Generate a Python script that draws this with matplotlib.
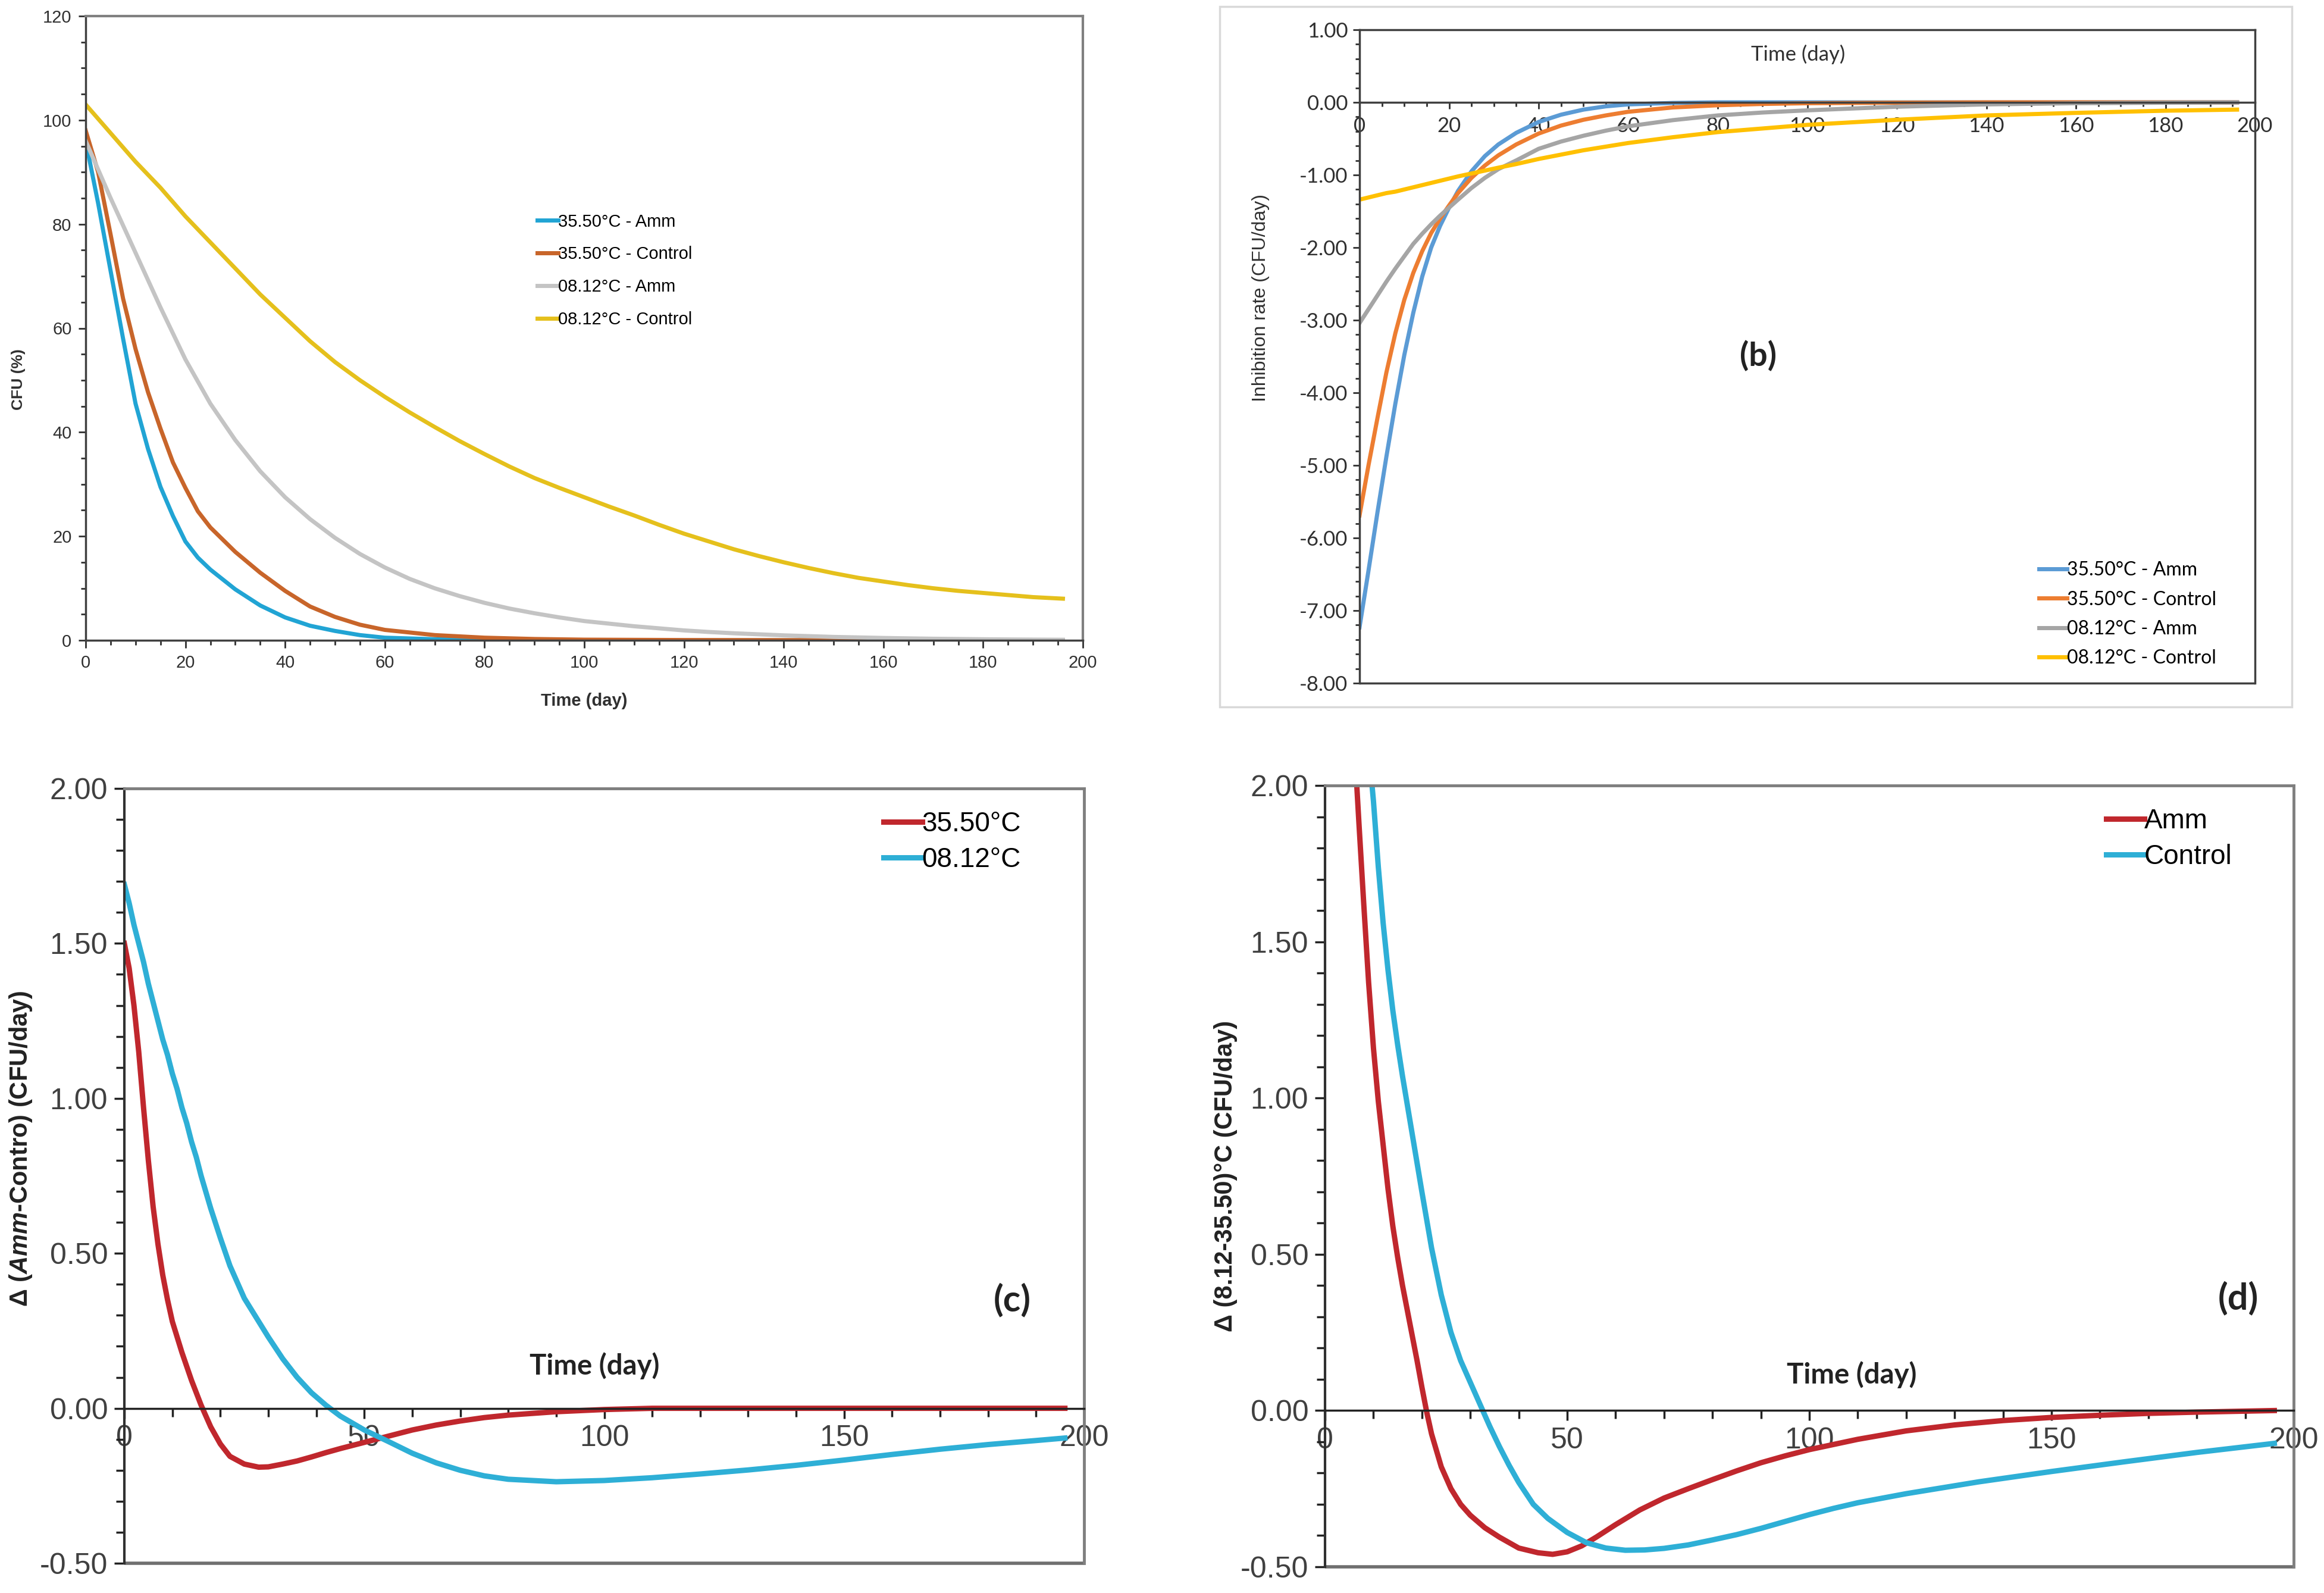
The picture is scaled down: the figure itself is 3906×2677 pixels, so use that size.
import matplotlib
matplotlib.use("Agg")
import matplotlib.pyplot as plt
from matplotlib.ticker import MultipleLocator, FormatStrFormatter

NARROW = ["Liberation Sans Narrow", "Liberation Sans", "DejaVu Sans"]
ARIAL = ["Liberation Sans", "DejaVu Sans"]
CALIBRI = ["Lato", "Liberation Sans", "DejaVu Sans"]

plt.rcParams["mathtext.fontset"] = "custom"
plt.rcParams["mathtext.rm"] = "Liberation Sans:bold"
plt.rcParams["mathtext.bf"] = "Liberation Sans:bold"
plt.rcParams["mathtext.it"] = "Liberation Sans:italic:bold"

# ---- panel (a): CFU (%) over time ----
a_day_fast = [0, 2.5, 5, 7.5, 10, 12.5, 15, 17.5, 20, 22.5, 25, 30, 35, 40, 45,
              50, 55, 60, 70, 80, 90, 100, 120, 150, 196]
a_amm_35 = [96, 84, 71, 58, 45.5, 36.8, 29.5, 23.9, 19, 15.9, 13.6, 9.8, 6.7, 4.4, 2.8,
            1.8, 1.0, 0.5, 0.2, 0.05, 0, 0, 0, 0, 0]
a_ctrl_35 = [98, 90, 78, 65.7, 56, 47.7, 40.7, 34.2, 29.3, 24.8, 21.7, 17, 13, 9.5, 6.5,
             4.5, 3.0, 2.0, 1.0, 0.5, 0.25, 0.12, 0.05, 0.02, 0]
a_day_slow = [0, 5, 10, 15, 20, 25, 30, 35, 40, 45, 50, 55, 60, 65, 70, 75, 80, 85, 90,
              95, 100, 105, 110, 115, 120, 125, 130, 135, 140, 145, 150, 155, 160, 165,
              170, 175, 180, 185, 190, 196]
a_amm_08 = [96, 85, 74.5, 64, 54, 45.5, 38.5, 32.5, 27.5, 23.3, 19.7, 16.6, 14, 11.8, 10,
            8.5, 7.2, 6.1, 5.2, 4.4, 3.7, 3.2, 2.7, 2.3, 1.9, 1.6, 1.35, 1.15, 0.95, 0.8,
            0.65, 0.55, 0.45, 0.37, 0.3, 0.25, 0.2, 0.16, 0.13, 0.1]
a_ctrl_08 = [103, 97.5, 92, 87, 81.5, 76.5, 71.5, 66.5, 62, 57.5, 53.5, 50, 46.8, 43.8, 41,
             38.3, 35.8, 33.4, 31.2, 29.3, 27.5, 25.7, 24, 22.2, 20.5, 19, 17.5, 16.2, 15,
             13.9, 12.9, 12, 11.3, 10.6, 10, 9.5, 9.1, 8.7, 8.3, 8.0]

# ---- panel (b): inhibition rate ----
b_day = [0, 2, 4, 6, 8, 10, 12, 14, 16, 18, 20, 22, 25, 28, 31, 35, 40, 45, 50, 55, 60,
         70, 80, 90, 100, 120, 140, 160, 180, 196]
b_amm_35 = [-7.23, -6.45, -5.65, -4.88, -4.15, -3.48, -2.9, -2.4, -2.0, -1.7, -1.45, -1.22,
            -0.95, -0.74, -0.58, -0.42, -0.27, -0.17, -0.1, -0.055, -0.028, -0.008, 0, 0,
            0, 0, 0, 0, 0, 0]
b_ctrl_35 = [-5.69, -5.0, -4.35, -3.72, -3.18, -2.72, -2.35, -2.05, -1.8, -1.6, -1.42, -1.25,
             -1.04, -0.87, -0.73, -0.58, -0.43, -0.32, -0.24, -0.18, -0.13, -0.07, -0.04,
             -0.022, -0.012, -0.004, 0, 0, 0, 0]
b_amm_08 = [-3.04, -2.85, -2.66, -2.47, -2.29, -2.12, -1.95, -1.81, -1.68, -1.56, -1.45,
            -1.34, -1.18, -1.04, -0.92, -0.8, -0.64, -0.54, -0.46, -0.39, -0.33, -0.245,
            -0.18, -0.14, -0.11, -0.06, -0.028, -0.012, -0.005, 0]
b_ctrl_08 = [-1.34, -1.31, -1.28, -1.25, -1.23, -1.2, -1.17, -1.14, -1.11, -1.08, -1.05,
             -1.02, -0.98, -0.94, -0.9, -0.85, -0.78, -0.72, -0.66, -0.61, -0.56, -0.48,
             -0.41, -0.36, -0.31, -0.24, -0.18, -0.145, -0.115, -0.1]

# ---- panel (c): Amm - Control ----
c_day = [0, 1, 2, 3, 4, 5, 6, 7, 8, 9, 10, 11, 12, 13, 14, 15, 16, 18, 20, 22, 25, 28,
         30, 33, 36, 39, 42, 45, 50, 55, 60, 65, 70, 75, 80, 90, 100, 110, 120, 130, 140,
         150, 160, 170, 180, 190, 196]
c_35 = [1.50, 1.42, 1.30, 1.15, 0.97, 0.80, 0.65, 0.53, 0.43, 0.35, 0.28, 0.23, 0.18,
        0.135, 0.09, 0.05, 0.01, -0.06, -0.115, -0.155, -0.18, -0.19, -0.189, -0.18, -0.17,
        -0.157, -0.143, -0.13, -0.11, -0.09, -0.07, -0.054, -0.041, -0.03, -0.022, -0.011,
        -0.004, 0, 0, 0, 0, 0, 0, 0, 0, 0, 0]
c_08 = [1.69, 1.63, 1.56, 1.50, 1.44, 1.37, 1.31, 1.25, 1.19, 1.14, 1.08, 1.03, 0.97,
        0.92, 0.86, 0.81, 0.75, 0.645, 0.55, 0.46, 0.355, 0.28, 0.23, 0.16, 0.10, 0.05,
        0.01, -0.025, -0.07, -0.107, -0.145, -0.176, -0.2, -0.218, -0.229, -0.237, -0.233,
        -0.224, -0.212, -0.199, -0.184, -0.167, -0.149, -0.132, -0.117, -0.104, -0.096]

# ---- panel (d): 8.12 - 35.50 degC ----
d_day_amm = [4, 5, 6, 7, 8, 9, 10, 11, 12, 13, 14, 15, 16, 17, 18, 19, 20, 21, 22, 24, 26,
             28, 30, 33, 36, 40, 44, 47, 50, 53, 56, 60, 65, 70, 75, 80, 85, 90, 95, 100,
             110, 120, 130, 140, 150, 160, 170, 180, 196]
d_amm = [2.75, 2.42, 2.15, 1.88, 1.62, 1.37, 1.16, 0.99, 0.85, 0.71, 0.59, 0.49, 0.40,
         0.32, 0.24, 0.16, 0.075, -0.005, -0.075, -0.18, -0.25, -0.30, -0.335, -0.375,
         -0.405, -0.44, -0.455, -0.46, -0.452, -0.433, -0.405, -0.365, -0.318, -0.28,
         -0.25, -0.221, -0.193, -0.167, -0.145, -0.125, -0.092, -0.065, -0.046, -0.032,
         -0.022, -0.015, -0.009, -0.005, 0.0]
d_day_ctrl = [8, 9, 10, 11, 12, 13, 14, 15, 16, 18, 20, 22, 24, 26, 28, 30, 32, 34, 36, 38,
              40, 43, 46, 50, 54, 58, 62, 66, 70, 75, 80, 85, 90, 95, 100, 105, 110, 120,
              135, 150, 165, 180, 196]
d_ctrl = [2.35, 2.12, 1.95, 1.74, 1.56, 1.41, 1.28, 1.17, 1.07, 0.885, 0.70, 0.52, 0.37,
          0.25, 0.16, 0.09, 0.02, -0.05, -0.115, -0.175, -0.23, -0.30, -0.345, -0.39,
          -0.423, -0.44, -0.447, -0.446, -0.441, -0.43, -0.414, -0.397, -0.377, -0.355,
          -0.333, -0.313, -0.295, -0.266, -0.228, -0.195, -0.164, -0.134, -0.105]

W, H = 3906, 2677
fig = plt.figure(figsize=(W / 100, H / 100), dpi=100)


def px_axes(left, right, top, bottom):
    """Axes from pixel edges of the target picture."""
    return fig.add_axes([left / W, 1 - bottom / H, (right - left) / W, (bottom - top) / H])


def box_line(ax, y, color, lw):
    ax.plot([0, 1], [y, y], transform=ax.transAxes, color=color, lw=lw,
            clip_on=False, solid_capstyle="butt")


# ================= (a) =================
ax = px_axes(144, 1820, 27, 1076)
ax.plot(a_day_fast, a_amm_35, color="#21a4d4", lw=5, label="35.50°C - Amm")
ax.plot(a_day_fast, a_ctrl_35, color="#c8652a", lw=5, label="35.50°C - Control")
ax.plot(a_day_slow, a_amm_08, color="#c4c4c4", lw=5, label="08.12°C - Amm")
ax.plot(a_day_slow, a_ctrl_08, color="#e5c01c", lw=5, label="08.12°C - Control")
ax.set_xlim(0, 200)
ax.set_ylim(0, 120)
ax.xaxis.set_major_locator(MultipleLocator(20))
ax.xaxis.set_minor_locator(MultipleLocator(5))
ax.yaxis.set_major_locator(MultipleLocator(20))
ax.yaxis.set_minor_locator(MultipleLocator(5))
for s in ["left", "bottom"]:
    ax.spines[s].set_color("#404040")
    ax.spines[s].set_linewidth(2.5)
for s in ["top", "right"]:
    ax.spines[s].set_color("#808080")
    ax.spines[s].set_linewidth(3)
ax.tick_params(which="both", direction="out", color="#303030", width=2,
               labelsize=21, labelcolor="#303030", pad=8)
ax.tick_params(which="major", length=9)
ax.tick_params(which="minor", length=6)
for t in ax.get_xticklabels() + ax.get_yticklabels():
    t.set_family(NARROW)
ax.set_xlabel("Time (day)", fontsize=21, fontweight="bold", family=NARROW, color="#303030")
ax.xaxis.set_label_coords(0.5, -0.084)
ax.set_ylabel("CFU (%)", fontsize=19, fontweight="bold", family=ARIAL, color="#303030")
ax.yaxis.set_label_coords(-0.060, 0.418)
ax.text(1755, 102, "(a)", fontsize=23, fontweight="bold", family=ARIAL, color="#222222",
        ha="center", va="center", transform=None)
ax.legend(loc="upper left", bbox_to_anchor=(0.446, 0.695), frameon=False,
          prop={"family": NARROW, "size": 21}, handlelength=1.2, handletextpad=0.0,
          labelspacing=0.92, borderaxespad=0)

# ================= (b) =================
# light frame around the whole panel
fig.patches.append(plt.Rectangle((2050 / W, 1 - 1188 / H), (3852 - 2050) / W, (1188 - 11) / H,
                                 transform=fig.transFigure, fill=False,
                                 edgecolor="#d9d9d9", lw=2.5))
bx = px_axes(2285, 3790, 50, 1148)
bx.plot(b_day, b_amm_35, color="#5b9bd5", lw=5, label="35.50°C - Amm")
bx.plot(b_day, b_ctrl_35, color="#ed7d31", lw=5, label="35.50°C - Control")
bx.plot(b_day, b_amm_08, color="#a5a5a5", lw=5, label="08.12°C - Amm")
bx.plot(b_day, b_ctrl_08, color="#ffc000", lw=5, label="08.12°C - Control")
bx.set_xlim(0, 200)
bx.set_ylim(-8, 1)
bx.spines["bottom"].set_position(("data", 0))
for s in ["left", "bottom", "top", "right"]:
    bx.spines[s].set_color("#404040")
    bx.spines[s].set_linewidth(2.5)
box_line(bx, 0, "#404040", 2.5)
bx.xaxis.set_major_locator(MultipleLocator(20))
bx.xaxis.set_minor_locator(MultipleLocator(5))
bx.yaxis.set_major_locator(MultipleLocator(1))
bx.yaxis.set_minor_locator(MultipleLocator(0.2))
bx.yaxis.set_major_formatter(FormatStrFormatter("%.2f"))
bx.tick_params(which="both", direction="out", color="#303030", width=2,
               labelsize=25, labelcolor="#303030")
bx.tick_params(axis="x", which="major", length=8, pad=9)
bx.tick_params(axis="x", which="minor", length=5)
bx.tick_params(axis="y", which="major", length=8, pad=6)
bx.tick_params(axis="y", which="minor", length=5)
for t in bx.get_xticklabels() + bx.get_yticklabels():
    t.set_family(CALIBRI)
bx.set_ylabel("Inhibition rate (CFU/day)", fontsize=23, family=ARIAL, color="#303030")
bx.yaxis.set_label_coords(-0.100, 0.59)
bx.text(98, 0.66, "Time (day)", fontsize=25, family=CALIBRI, color="#303030",
        ha="center", va="center")
bx.text(89, -3.49, "(b)", fontsize=40, fontweight="bold", family=CALIBRI, color="#222222",
        ha="center", va="center")
bx.legend(loc="upper left", bbox_to_anchor=(0.75, 0.198), frameon=False,
          prop={"family": CALIBRI, "size": 23}, handlelength=1.5, handletextpad=0.0,
          labelspacing=0.6, borderaxespad=0)


# ================= (c) and (d) =================
def delta_axes(ax):
    ax.set_xlim(0, 200)
    ax.set_ylim(-0.5, 2.0)
    ax.spines["bottom"].set_position(("data", 0))
    ax.spines["bottom"].set_color("#222222")
    ax.spines["bottom"].set_linewidth(2.5)
    ax.spines["left"].set_color("#303030")
    ax.spines["left"].set_linewidth(3)
    for s in ["top", "right"]:
        ax.spines[s].set_color("#7f7f7f")
        ax.spines[s].set_linewidth(3.5)
    box_line(ax, 0, "#6f6f6f", 4)
    ax.xaxis.set_major_locator(MultipleLocator(50))
    ax.xaxis.set_minor_locator(MultipleLocator(10))
    ax.yaxis.set_major_locator(MultipleLocator(0.5))
    ax.yaxis.set_minor_locator(MultipleLocator(0.1))
    ax.yaxis.set_major_formatter(FormatStrFormatter("%.2f"))
    ax.tick_params(which="both", direction="out", color="#222222", width=2.5,
                   labelsize=36, labelcolor="#404040")
    ax.tick_params(which="major", length=12, pad=8)
    ax.tick_params(which="minor", length=10)
    for t in ax.get_xticklabels() + ax.get_yticklabels():
        t.set_family(NARROW)


cx = px_axes(209, 1822, 1325, 2627)
cx.plot(c_day, c_35, color="#c0272d", lw=6.5, label="35.50°C")
cx.plot(c_day, c_08, color="#2eafd6", lw=6.5, label="08.12°C")
delta_axes(cx)
cx.set_ylabel(r"Δ ($\mathit{Amm}$-Contro) (CFU/day)", fontsize=30, fontweight="bold",
              family=ARIAL, color="#222222")
cx.yaxis.set_label_coords(-0.094, 0.535)
cx.text(98, 0.138, "Time (day)", fontsize=34, fontweight="bold", family=CALIBRI,
        color="#222222", ha="center", va="center")
cx.text(185, 0.35, "(c)", fontsize=44, fontweight="bold", family=CALIBRI, color="#222222",
        ha="center", va="center")
cx.legend(loc="upper left", bbox_to_anchor=(0.78, 0.985), frameon=False,
          prop={"family": NARROW, "size": 33}, handlelength=1.4, handletextpad=0.0,
          labelspacing=0.35, borderaxespad=0)

dx = px_axes(2227, 3855, 1320, 2633)
dx.plot(d_day_amm, d_amm, color="#c0272d", lw=6.5, label="Amm")
dx.plot(d_day_ctrl, d_ctrl, color="#2eafd6", lw=6.5, label="Control")
delta_axes(dx)
dx.set_ylabel("Δ (8.12-35.50)°C (CFU/day)", fontsize=30, fontweight="bold",
              family=ARIAL, color="#222222")
dx.yaxis.set_label_coords(-0.090, 0.5)
dx.text(108.7, 0.114, "Time (day)", fontsize=34, fontweight="bold", family=CALIBRI,
        color="#222222", ha="center", va="center")
dx.text(188.6, 0.36, "(d)", fontsize=44, fontweight="bold", family=CALIBRI, color="#222222",
        ha="center", va="center")
dx.legend(loc="upper left", bbox_to_anchor=(0.795, 0.985), frameon=False,
          prop={"family": NARROW, "size": 33}, handlelength=1.4, handletextpad=0.0,
          labelspacing=0.35, borderaxespad=0)

fig.savefig("out.png", dpi=100, facecolor="white")
